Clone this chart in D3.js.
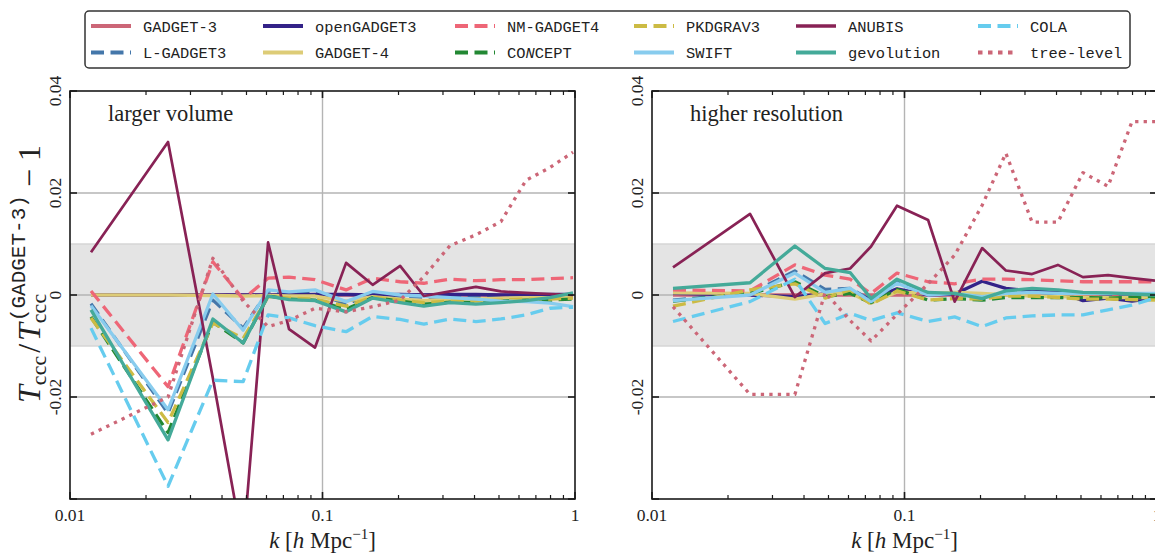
<!DOCTYPE html>
<html><head><meta charset="utf-8">
<script src="https://cdn.jsdelivr.net/npm/d3@7"></script>
<style>body{margin:0;background:#fff}svg{display:block}</style>
</head><body>
<svg id="c" width="1155" height="554"></svg>
<script>
// ---------------- data ----------------
const k = [0.01211, 0.02445, 0.0368, 0.0485, 0.0609, 0.0737, 0.0934, 0.124, 0.158, 0.203, 0.252, 0.320, 0.405, 0.509, 0.640, 0.796, 0.982];

const codes = ["GADGET-3","L-GADGET3","openGADGET3","GADGET-4","NM-GADGET4","CONCEPT","PKDGRAV3","SWIFT","ANUBIS","gevolution","COLA","tree-level"];
const colors = ["#CC6677","#4477AA","#332288","#DDCC77","#EE6677","#228833","#CCBB44","#88CCEE","#882255","#44AA99","#66CCEE","#CC6677"];
const styles = ["solid","dashed","solid","solid","dashed","dashed","dashed","solid","solid","solid","dashed","dotted"];

const panelTitles = ["larger volume","higher resolution"];
const xTickValues = [0.01, 0.1, 1];
const xTickLabels = ["0.01","0.1","1"];
const yTickValues = [-0.04, -0.02, 0, 0.02, 0.04];
const yTickLabels = ["","-0.02","0","0.02","0.04"];

// larger volume (left panel)
const gadget3_L     = [0,0,0,0,0,0,0,0,0,0,0,0,0,0,0,0,0];
const lgadget3_L    = [-0.0017,-0.0232,-0.0010,-0.0065,0.0008,0.0003,0.0005,-0.0018,0.0003,-0.0003,-0.0004,-0.0004,-0.0005,-0.0005,-0.0005,-0.0004,-0.0003];
const opengadget3_L = [0.0000,0.0000,0.0000,0.0000,0.0000,0.0000,0.0001,0.0001,0.0000,0.0001,0.0000,0.0001,0.0001,0.0000,0.0001,0.0001,0.0001];
const gadget4_L     = [0.0000,0.0000,-0.0001,-0.0002,-0.0001,-0.0002,-0.0002,-0.0012,-0.0003,-0.0008,-0.0011,-0.0008,-0.0008,-0.0006,-0.0005,-0.0005,-0.0003];
const nmgadget4_L   = [0.0008,-0.0180,0.0065,-0.0008,0.0033,0.0035,0.0030,0.0010,0.0033,0.0026,0.0023,0.0031,0.0028,0.0030,0.0030,0.0032,0.0034];
const concept_L     = [-0.0043,-0.0270,-0.0053,-0.0094,-0.0002,-0.0008,-0.0010,-0.0028,-0.0005,-0.0012,-0.0018,-0.0014,-0.0015,-0.0012,-0.0010,-0.0010,-0.0008];
const pkdgrav3_L    = [-0.0045,-0.0250,-0.0055,-0.0085,-0.0003,-0.0006,-0.0008,-0.0022,-0.0004,-0.0010,-0.0015,-0.0012,-0.0012,-0.0010,-0.0008,-0.0008,-0.0006];
const swift_L       = [-0.0021,-0.0225,0.0002,-0.0069,0.0010,0.0006,0.0010,-0.0013,0.0007,0.0000,-0.0002,-0.0005,-0.0008,-0.0012,-0.0013,-0.0016,-0.0023];
const anubis_L      = [0.0084,0.0300,-0.0163,-0.0494,0.0103,-0.0067,-0.0103,0.0063,0.0020,0.0057,-0.0002,0.0007,0.0016,0.0007,0.0004,0.0002,0.0000];
const gevolution_L  = [-0.0029,-0.0284,-0.0047,-0.0094,-0.0002,-0.0009,-0.0011,-0.0033,-0.0006,-0.0015,-0.0022,-0.0015,-0.0018,-0.0015,-0.0011,-0.0005,0.0004];
const cola_L        = [-0.0065,-0.0375,-0.0167,-0.0170,-0.0039,-0.0045,-0.0060,-0.0072,-0.0042,-0.0048,-0.0057,-0.0047,-0.0052,-0.0047,-0.0039,-0.0026,-0.0024];
const treelevel_L   = [-0.0273,-0.0200,0.0072,-0.0012,-0.0062,-0.0050,-0.0026,-0.0033,-0.0023,-0.0010,0.0036,0.0097,0.0118,0.0144,0.0225,0.0250,0.0280];

// higher resolution (right panel)
const gadget3_R     = [0,0,0,0,0,0,0,0,0,0,0,0,0,0,0,0,0];
const lgadget3_R    = [-0.0010,0.0003,0.0047,0.0011,0.0013,-0.0010,0.0026,0.0002,0.0003,-0.0002,0.0004,0.0005,0.0003,0.0003,0.0002,0.0002,0.0003];
const opengadget3_R = [0.0003,0.0000,-0.0003,0.0002,0.0004,-0.0008,0.0012,0.0000,0.0002,0.0027,0.0013,0.0008,0.0007,-0.0011,-0.0006,-0.0012,-0.0006];
const gadget4_R     = [0.0004,0.0003,-0.0008,0.0002,0.0004,-0.0016,0.0006,0.0003,0.0005,0.0003,0.0000,-0.0002,-0.0003,-0.0004,-0.0005,-0.0005,-0.0005];
const nmgadget4_R   = [0.0010,0.0008,0.0059,0.0039,0.0031,0.0003,0.0043,0.0026,0.0022,0.0031,0.0031,0.0030,0.0028,0.0026,0.0026,0.0026,0.0026];
const concept_R     = [-0.0012,0.0003,0.0026,-0.0003,0.0003,-0.0015,0.0011,-0.0010,-0.0007,-0.0010,-0.0005,-0.0005,-0.0005,-0.0005,-0.0006,-0.0005,-0.0004];
const pkdgrav3_R    = [-0.0022,0.0010,0.0022,-0.0006,0.0010,-0.0018,0.0008,-0.0010,-0.0007,-0.0008,-0.0002,-0.0002,-0.0005,-0.0008,-0.0008,-0.0009,-0.0010];
const swift_R       = [-0.0011,0.0000,0.0043,0.0005,0.0013,-0.0013,0.0023,0.0000,0.0003,-0.0003,0.0003,0.0005,0.0003,0.0003,0.0003,0.0003,0.0003];
const anubis_R      = [0.0054,0.0159,-0.0004,0.0043,0.0052,0.0095,0.0175,0.0147,-0.0013,0.0092,0.0048,0.0041,0.0059,0.0035,0.0039,0.0033,0.0028];
const gevolution_R  = [0.0013,0.0024,0.0096,0.0052,0.0044,-0.0007,0.0031,0.0005,0.0003,-0.0007,0.0008,0.0013,0.0010,0.0005,0.0004,0.0002,0.0000];
const cola_R        = [-0.0052,-0.0013,0.0031,-0.0056,-0.0036,-0.0050,-0.0035,-0.0052,-0.0043,-0.0062,-0.0045,-0.0041,-0.0039,-0.0039,-0.0029,-0.0020,-0.0006];
const treelevel_R   = [-0.0023,-0.0195,-0.0195,0.0005,-0.0050,-0.0090,-0.0038,0.0022,0.0078,0.0176,0.0278,0.0143,0.0143,0.0240,0.0213,0.0340,0.0340];

const seriesL = [gadget3_L,lgadget3_L,opengadget3_L,gadget4_L,nmgadget4_L,concept_L,pkdgrav3_L,swift_L,anubis_L,gevolution_L,cola_L,treelevel_L];
const seriesR = [gadget3_R,lgadget3_R,opengadget3_R,gadget4_R,nmgadget4_R,concept_R,pkdgrav3_R,swift_R,anubis_R,gevolution_R,cola_R,treelevel_R];

// ---------------- drawing ----------------
const svg = d3.select("#c");
svg.append("rect").attr("width",1155).attr("height",554).attr("fill","#fff");
const SERIF = "'Liberation Serif','DejaVu Serif',serif";
const MONO = "'Liberation Mono','DejaVu Sans Mono',monospace";

function dashFor(s, inLegend){
  if (s==="dashed") return "13,6.5";
  if (s==="dotted") return inLegend ? "4.5,5.5" : "3.3,5.2";
  return null;
}
function widthFor(i){ return codes[i]==="ANUBIS" ? 2.7 : 3.3; }

const panels = [
  {x0:70, x1:575, data:seriesL, title:panelTitles[0]},
  {x0:652, x1:1157, data:seriesR, title:panelTitles[1]}
];
const y = d3.scaleLinear().domain([-0.04,0.04]).range([499,91]);

panels.forEach((p,pi)=>{
  const x = d3.scaleLog().domain([0.01,1]).range([p.x0,p.x1]);
  const g = svg.append("g");
  const clipId = "clip"+pi;
  svg.append("clipPath").attr("id",clipId).append("rect")
    .attr("x",p.x0).attr("y",91).attr("width",p.x1-p.x0).attr("height",499-91);

  // band
  g.append("rect").attr("x",p.x0).attr("width",p.x1-p.x0)
    .attr("y",y(0.01)).attr("height",y(-0.01)-y(0.01)).attr("fill","#e4e4e4");
  [0.01,-0.01].forEach(v=>g.append("line").attr("x1",p.x0).attr("x2",p.x1)
    .attr("y1",y(v)).attr("y2",y(v)).attr("stroke","#d6d6d6").attr("stroke-width",1.5));

  // grid
  [-0.02,0,0.02].forEach(v=>g.append("line").attr("x1",p.x0).attr("x2",p.x1)
    .attr("y1",y(v)).attr("y2",y(v)).attr("stroke","#b4b4b4").attr("stroke-width",1.4));
  g.append("line").attr("x1",x(0.1)).attr("x2",x(0.1)).attr("y1",91).attr("y2",499)
    .attr("stroke","#b4b4b4").attr("stroke-width",1.4);

  // series
  const lg = g.append("g").attr("clip-path",`url(#${clipId})`);
  const line = d3.line().x((d,i)=>x(k[i])).y(d=>y(d));
  p.data.forEach((arr,i)=>{
    lg.append("path").attr("d",line(arr)).attr("fill","none")
      .attr("stroke",colors[i]).attr("stroke-width",widthFor(i))
      .attr("stroke-linejoin","round").attr("stroke-linecap","butt")
      .attr("stroke-dasharray",dashFor(styles[i],false));
  });

  // frame
  g.append("rect").attr("x",p.x0).attr("y",91).attr("width",p.x1-p.x0).attr("height",408)
    .attr("fill","none").attr("stroke","#1a1a1a").attr("stroke-width",1.6);

  // y ticks (inward, both sides)
  yTickValues.forEach((v,i)=>{
    [[p.x0,1],[p.x1,-1]].forEach(([xx,dir])=>{
      g.append("line").attr("x1",xx).attr("x2",xx+dir*7).attr("y1",y(v)).attr("y2",y(v))
        .attr("stroke","#1a1a1a").attr("stroke-width",1.6);
    });
    if (yTickLabels[i]) {
      g.append("text").attr("font-family",SERIF).attr("font-size",17.5).attr("fill","#222")
        .attr("text-anchor","middle")
        .attr("transform",`translate(${p.x0-9},${y(v)}) rotate(-90)`)
        .text(yTickLabels[i]);
    }
  });
  // x ticks
  const minors = [];
  [0.01,0.1].forEach(d=>{ for(let m=2;m<=9;m++) minors.push(d*m); });
  minors.forEach(v=>{
    [[91,1],[499,-1]].forEach(([yy,dir])=>g.append("line").attr("x1",x(v)).attr("x2",x(v))
      .attr("y1",yy).attr("y2",yy+dir*4).attr("stroke","#1a1a1a").attr("stroke-width",1.2));
  });
  xTickValues.forEach((v,i)=>{
    [[91,1],[499,-1]].forEach(([yy,dir])=>g.append("line").attr("x1",x(v)).attr("x2",x(v))
      .attr("y1",yy).attr("y2",yy+dir*7).attr("stroke","#1a1a1a").attr("stroke-width",1.6));
    g.append("text").attr("x",x(v)).attr("y",521).attr("text-anchor","middle")
      .attr("font-family",SERIF).attr("font-size",17.5).attr("fill","#222").text(xTickLabels[i]);
  });

  // panel title
  g.append("text").attr("x",p.x0+38).attr("y",121).attr("font-family",SERIF)
    .attr("font-size",22.5).attr("fill","#222").text(p.title);

  // x label
  const xl = g.append("text").attr("x",(p.x0+p.x1)/2).attr("y",548).attr("text-anchor","middle")
    .attr("font-family",SERIF).attr("font-size",23).attr("fill","#222");
  xl.append("tspan").attr("font-style","italic").text("k");
  xl.append("tspan").text(" [");
  xl.append("tspan").attr("font-style","italic").text("h");
  xl.append("tspan").text(" Mpc");
  xl.append("tspan").attr("font-size",15).attr("dy",-9).text("\u22121");
  xl.append("tspan").attr("dy",9).text("]");
});

// y label: pieces laid out along the rotated baseline
const ylg = svg.append("g").attr("fill","#222");
const inner = ylg.append("g");
let cx = 0;
function piece(txt, opts){
  const t = inner.append("text").attr("x",cx+(opts.dx||0)).attr("y",opts.dy||0)
    .attr("font-family",opts.font||SERIF).attr("font-size",opts.size)
    .attr("font-style",opts.italic?"italic":"normal").text(txt);
  return t.node().getComputedTextLength()+(opts.dx||0);
}
cx += piece("T",{size:32,italic:true});
cx += piece("ccc",{size:22,dy:6});
cx += piece("/",{size:32,dx:3});
cx += piece("T",{size:32,italic:true,dx:3});
const w1 = piece("ccc",{size:22,dy:6});
const w2 = piece("(GADGET-3)",{size:21,font:MONO,dy:-15,dx:2});
cx += Math.max(w1,w2);
cx += piece("\u2212",{size:32,dx:8});
cx += piece("1",{size:32,dx:8});
inner.attr("transform",`translate(${-cx/2},0)`);
ylg.attr("transform","translate(40,274) rotate(-90)");

// legend
const legend = svg.append("g");
legend.append("rect").attr("x",85).attr("y",11).attr("width",1045).attr("height",57).attr("rx",4)
  .attr("fill","#fff").attr("stroke","#333").attr("stroke-width",1.5);
const colX = [91, 263, 455, 634, 796, 978];
const rowY = [26, 52.5];
codes.forEach((c,i)=>{
  const col = Math.floor(i/2), row = i%2;
  const lx = colX[col], ly = rowY[row];
  legend.append("line").attr("x1",lx).attr("x2",lx+40).attr("y1",ly).attr("y2",ly)
    .attr("stroke",colors[i]).attr("stroke-width",widthFor(i)+0.6)
    .attr("stroke-dasharray",dashFor(styles[i],true));
  const t = legend.append("text").attr("x",lx+52).attr("y",ly+5.5).attr("font-family",MONO)
    .attr("font-size",15.4).attr("fill","#222");
  if (c==="CONCEPT") {
    t.append("tspan").text("CO");
    t.append("tspan").attr("font-style","italic").text("N");
    t.append("tspan").text("CEPT");
  } else t.text(c);
});
</script>
</body></html>
